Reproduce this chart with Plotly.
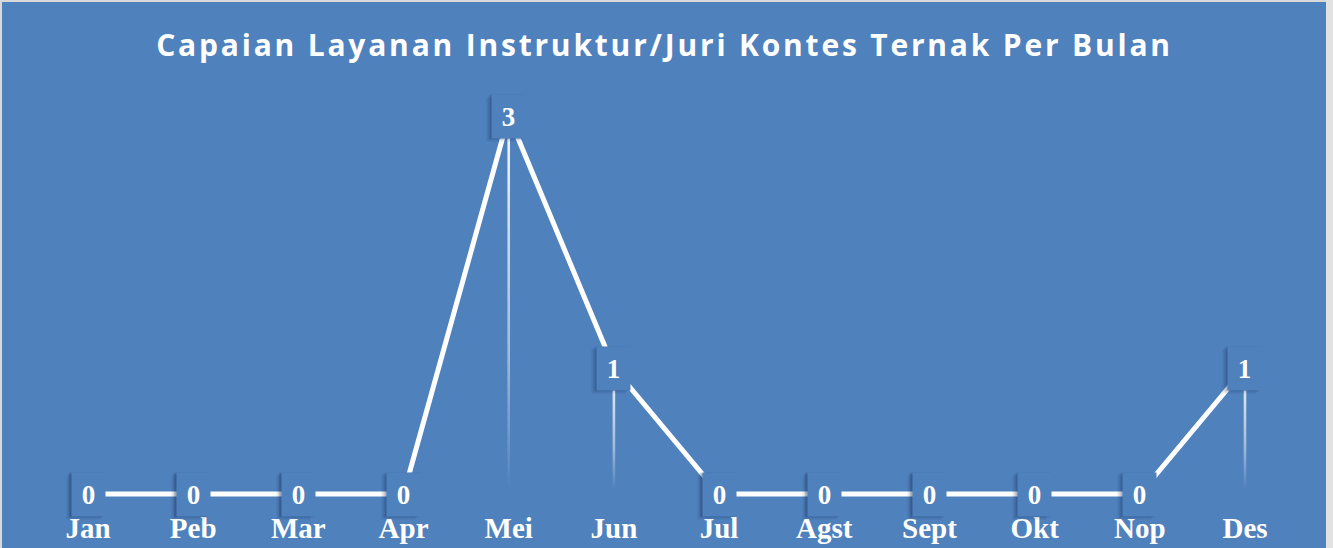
import plotly.graph_objects as go

months = ["Jan", "Peb", "Mar", "Apr", "Mei", "Jun", "Jul", "Agst", "Sept", "Okt", "Nop", "Des"]
values = [0, 0, 0, 0, 3, 1, 0, 0, 0, 0, 0, 1]
title_text = "Capaian Layanan Instruktur/Juri Kontes Ternak Per Bulan"

W, H = 1333, 548
BG = "#4F81BD"
BORDER = "#d9d9d9"
MB = 40  # bottom margin for category labels
plot_h = H - MB

# pixel layout of the axes
px_per_x = 105.18
x_first_px = 88
px_per_y = 126
y_zero_px = 494

x_idx = list(range(len(months)))
xmin = -x_first_px / px_per_x
xmax = xmin + W / px_per_x
ymax = y_zero_px / px_per_y
ymin = -(plot_h - y_zero_px) / px_per_y

fig = go.Figure()

# gradient drop lines for non-zero months
half = 1.3 / px_per_x
for i, v in zip(x_idx, values):
    if v > 0:
        fig.add_trace(go.Scatter(
            x=[i - half, i + half, i + half, i - half, i - half],
            y=[0.03, 0.03, v, v, 0.03],
            mode="lines", line=dict(width=0), fill="toself",
            fillgradient=dict(type="vertical",
                              colorscale=[[0, "rgba(255,255,255,0)"],
                                          [0.35, "rgba(255,255,255,0.45)"],
                                          [1, "rgba(255,255,255,0.95)"]]),
            hoverinfo="skip", showlegend=False))

# main line
fig.add_trace(go.Scatter(
    x=x_idx, y=values, mode="lines",
    line=dict(color="white", width=5),
    showlegend=False, hoverinfo="skip"))

# data label boxes (soft shadow + box)
annotations = []
for shift, alpha in ((5, 0.10), (3, 0.16), (1.5, 0.2)):
    for i, v in zip(x_idx, values):
        annotations.append(dict(
            x=i, y=v, xref="x", yref="y", text=" ", showarrow=False,
            width=31, height=41, bgcolor="rgba(20,40,80,%.2f)" % alpha,
            xshift=-shift, yshift=-shift * 0.6))
for i, v in zip(x_idx, values):
    annotations.append(dict(
        x=i, y=v, xref="x", yref="y", text="<b>%d</b>" % v, showarrow=False,
        width=31, height=41, bgcolor=BG,
        font=dict(family="Liberation Serif", size=27, color="white")))

# border strips
shapes = [
    dict(type="rect", xref="paper", yref="paper", x0=0, x1=2 / W,
         y0=-MB / plot_h, y1=1, fillcolor=BORDER, line=dict(width=0), layer="above"),
    dict(type="rect", xref="paper", yref="paper", x0=0, x1=1,
         y0=1 - 2 / plot_h, y1=1, fillcolor=BORDER, line=dict(width=0), layer="above"),
    dict(type="rect", xref="paper", yref="paper", x0=1326 / W, x1=1,
         y0=-MB / plot_h, y1=1, fillcolor="#e2e2e2", line=dict(width=0), layer="above"),
]

fig.update_layout(
    width=W, height=H,
    margin=dict(l=0, r=0, t=0, b=MB),
    paper_bgcolor=BG, plot_bgcolor=BG,
    title=dict(
        text='<span style="letter-spacing:2.8px">%s</span>' % title_text,
        x=0.4985, xanchor="center", y=1 - 45 / H, yanchor="middle", yref="container",
        font=dict(family="Open Sans", size=30, color="white", weight="bold")),
    xaxis=dict(range=[xmin, xmax], tickvals=x_idx, ticktext=months,
               showgrid=False, zeroline=False, showline=False, ticks="",
               tickfont=dict(family="Liberation Serif", size=29, color="white", weight="bold")),
    yaxis=dict(range=[ymin, ymax], showgrid=False, zeroline=False, showline=False,
               showticklabels=False, ticks=""),
    annotations=annotations, shapes=shapes,
)

fig.write_html("out.html",
               config={"displayModeBar": False, "staticPlot": True},
               post_script="document.body.style.margin='0';document.body.style.overflow='hidden';")
